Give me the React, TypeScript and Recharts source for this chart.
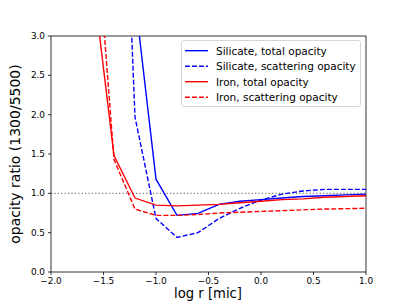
import React from 'react';
import { LineChart, Line, XAxis, YAxis, ReferenceLine, Label } from 'recharts';

// log r [mic]
const logR = [-1.6, -1.4, -1.2, -1.0, -0.8, -0.6, -0.4, -0.2, 0.0, 0.2, 0.4, 0.6, 0.8, 1.0];

const silicateTotal = [12.0, 6.0, 3.48, 1.18, 0.72, 0.745, 0.86, 0.9, 0.92, 0.94, 0.96, 0.97, 0.98, 0.99];
const silicateScatter = [14.0, 8.6, 1.97, 0.68, 0.44, 0.5, 0.68, 0.81, 0.915, 0.99, 1.03, 1.05, 1.05, 1.05];
const ironTotal = [3.7, 1.48, 0.94, 0.85, 0.84, 0.85, 0.86, 0.88, 0.9, 0.92, 0.93, 0.95, 0.96, 0.97];
const ironScatter = [4.9, 1.43, 0.8, 0.72, 0.72, 0.73, 0.75, 0.76, 0.77, 0.78, 0.79, 0.8, 0.805, 0.81];

const xTicks = [-2.0, -1.5, -1.0, -0.5, 0.0, 0.5, 1.0];
const yTicks = [0.0, 0.5, 1.0, 1.5, 2.0, 2.5, 3.0];

const series = [
  { key: 'silTot', name: 'Silicate, total opacity', color: '#0000ff', dashed: false },
  { key: 'silSca', name: 'Silicate, scattering opacity', color: '#0000ff', dashed: true },
  { key: 'feTot', name: 'Iron, total opacity', color: '#ff0000', dashed: false },
  { key: 'feSca', name: 'Iron, scattering opacity', color: '#ff0000', dashed: true },
];

const data = logR.map((x, i) => ({
  x,
  silTot: silicateTotal[i],
  silSca: silicateScatter[i],
  feTot: ironTotal[i],
  feSca: ironScatter[i],
}));

const FONT = '"DejaVu Sans", sans-serif';
const fmt = (v: number) => v.toFixed(1).replace('-', '\u2212');
const tickStyle = { fontSize: 8.9, fill: '#000', fontFamily: FONT };

function LegendBox() {
  return (
    <svg
      width={182}
      height={68}
      style={{ position: 'absolute', left: 181, top: 40, overflow: 'visible' }}
    >
      <rect x={0.5} y={0.5} width={179} height={66} rx={2.5} fill="rgba(255,255,255,0.8)" stroke="#cccccc" strokeWidth={0.8} />
      {series.map((s, i) => {
        const y = 10.7 + i * 15.5;
        return (
          <g key={s.key}>
            <line x1={4} x2={27} y1={y} y2={y} stroke={s.color} strokeWidth={1.4}
              strokeDasharray={s.dashed ? '4.9 2.1' : undefined} />
            <text x={35} y={y + 3.8} fontSize={10.5} fontFamily={FONT} fill="#000">{s.name}</text>
          </g>
        );
      })}
    </svg>
  );
}

export default function App() {
  return (
    <div style={{ position: 'absolute', left: 0, top: 0, width: 407, height: 305, background: '#fff' }}>
      <LineChart width={407} height={305} data={data} margin={{ top: 36, right: 41, bottom: 0, left: 0 }}>
        <XAxis
          dataKey="x"
          type="number"
          domain={[-2, 1]}
          ticks={xTicks}
          tickFormatter={fmt}
          tick={tickStyle}
          tickSize={3}
          tickMargin={3}
          height={33}
          stroke="#000"
          axisLine={{ stroke: '#000', strokeWidth: 0.8 }}
          tickLine={{ stroke: '#000', strokeWidth: 0.8 }}
          allowDataOverflow
        >
          <Label
            content={() => (
              <text x={208} y={298} textAnchor="middle" fontSize={13.2} fontFamily={FONT} fill="#000">
                log r [mic]
              </text>
            )}
          />
        </XAxis>
        <YAxis
          type="number"
          domain={[0, 3]}
          ticks={yTicks}
          tickFormatter={fmt}
          tick={tickStyle}
          tickSize={3}
          tickMargin={3}
          width={51}
          axisLine={{ stroke: '#000', strokeWidth: 0.8 }}
          tickLine={{ stroke: '#000', strokeWidth: 0.8 }}
          allowDataOverflow
        >
          <Label
            content={() => (
              <text
                x={0}
                y={0}
                transform="translate(20,154) rotate(-90)"
                textAnchor="middle"
                fontSize={14}
                fontFamily={FONT}
                fill="#000"
              >
                opacity ratio (1300/5500)
              </text>
            )}
          />
        </YAxis>
        <ReferenceLine y={1} stroke="#808080" strokeWidth={1.3} strokeDasharray="1.3 2.1" />
        <ReferenceLine y={3} stroke="#000" strokeWidth={0.8} />
        <ReferenceLine x={1} stroke="#000" strokeWidth={0.8} />
        {series.map((s) => (
          <Line
            key={s.key}
            dataKey={s.key}
            type="linear"
            stroke={s.color}
            strokeWidth={1.4}
            strokeDasharray={s.dashed ? '4.9 2.1' : undefined}
            dot={false}
            activeDot={false}
            isAnimationActive={false}
          />
        ))}
      </LineChart>
      <LegendBox />
    </div>
  );
}
